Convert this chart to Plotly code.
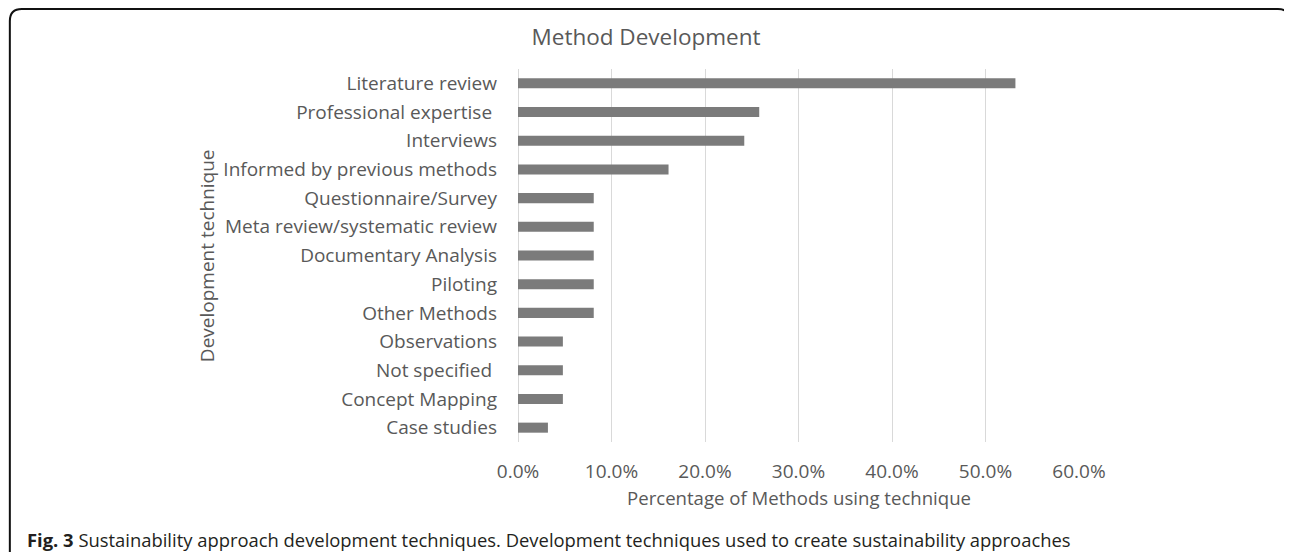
import plotly.graph_objects as go

categories = [
    "Literature review",
    "Professional expertise ",
    "Interviews",
    "Informed by previous methods",
    "Questionnaire/Survey",
    "Meta review/systematic review",
    "Documentary Analysis",
    "Piloting",
    "Other Methods",
    "Observations",
    "Not specified ",
    "Concept Mapping",
    "Case studies",
]
percentages = [53.2, 25.8, 24.2, 16.1, 8.1, 8.1, 8.1, 8.1, 8.1, 4.8, 4.8, 4.8, 3.2]
x_ticks = [0.0, 0.1, 0.2, 0.3, 0.4, 0.5, 0.6]

title_text = "Method Development"
x_title = "Percentage of Methods using technique"
y_title = "Development technique"
caption = ("<b>Fig. 3</b> Sustainability approach development techniques. "
           "Development techniques used to create sustainability approaches")

# the page body has an 8px margin: work in screen pixels, shift by OFF
OFF = 8
W, H = 1292 - OFF, 552 - OFF
L, R = 517.7 - OFF, 1079.3 - OFF
T, B = 69.3 - OFF, 441.7 - OFF

def px(xs):
    return (xs - OFF - L) / (R - L)

def py(ys):
    return (B - (ys - OFF)) / (B - T)

values = [v / 100 for v in percentages]
ticktext = [c.rstrip() + ("\u00a0" if c.endswith(" ") else "") for c in categories]

TXT = "#595959"
FONT = "Open Sans"

fig = go.Figure(
    go.Bar(
        x=values,
        y=categories,
        orientation="h",
        marker=dict(color="#7b7b7b", line=dict(width=0)),
        hoverinfo="x+y",
    )
)

fig.update_layout(
    width=W,
    height=H,
    margin=dict(l=L, r=W - R, t=T, b=H - B),
    paper_bgcolor="white",
    plot_bgcolor="white",
    showlegend=False,
    bargap=0.65,
    font=dict(family=FONT, color=TXT, size=19),
    title=dict(
        text=title_text,
        x=(646 - OFF) / W,
        xref="container",
        xanchor="center",
        y=1 - (37 - OFF) / H,
        yref="container",
        yanchor="middle",
        font=dict(family=FONT, size=22.5, color=TXT),
    ),
)

fig.update_xaxes(
    range=[0, 0.6],
    tickvals=x_ticks,
    tickformat=".1%",
    showgrid=True,
    gridcolor="#d9d9d9",
    gridwidth=1,
    zeroline=True,
    zerolinecolor="#d9d9d9",
    zerolinewidth=1,
    showline=False,
    ticks="",
    tickfont=dict(family=FONT, size=19, color=TXT),
    ticklabelstandoff=16,
    fixedrange=True,
)
fig.update_yaxes(
    categoryorder="array",
    categoryarray=categories,
    autorange="reversed",
    tickmode="array",
    tickvals=categories,
    ticktext=ticktext,
    showgrid=False,
    zeroline=False,
    showline=False,
    ticks="",
    ticklabelstandoff=20,
    tickfont=dict(family=FONT, size=19, color=TXT),
    fixedrange=True,
)

fig.add_annotation(
    text=x_title, xref="paper", yref="paper",
    x=0.5, y=py(497), xanchor="center", yanchor="middle",
    showarrow=False, font=dict(family=FONT, size=18.6, color=TXT),
)
fig.add_annotation(
    text=y_title, xref="paper", yref="paper",
    x=px(206), y=py(255.5), xanchor="center", yanchor="middle",
    textangle=-90, showarrow=False, font=dict(family=FONT, size=19, color=TXT),
)
fig.add_annotation(
    text=caption, xref="paper", yref="paper",
    x=px(24), y=py(539), xanchor="left", yanchor="middle",
    showarrow=False, font=dict(family=FONT, size=18.4, color="#231f20"),
)

# rounded frame (screen pixels)
x0, y0, x1, y1, r = 9, 9.5, 1290.5, 600, 12
path = (
    f"M {px(x0)},{py(y1)} L {px(x0)},{py(y0 + r)} "
    f"Q {px(x0)},{py(y0)} {px(x0 + r)},{py(y0)} "
    f"L {px(x1 - r)},{py(y0)} "
    f"Q {px(x1)},{py(y0)} {px(x1)},{py(y0 + r)} "
    f"L {px(x1)},{py(y1)}"
)
fig.add_shape(type="path", path=path, xref="paper", yref="paper",
              line=dict(color="#111111", width=2), layer="above")

fig.write_html("out.html")
